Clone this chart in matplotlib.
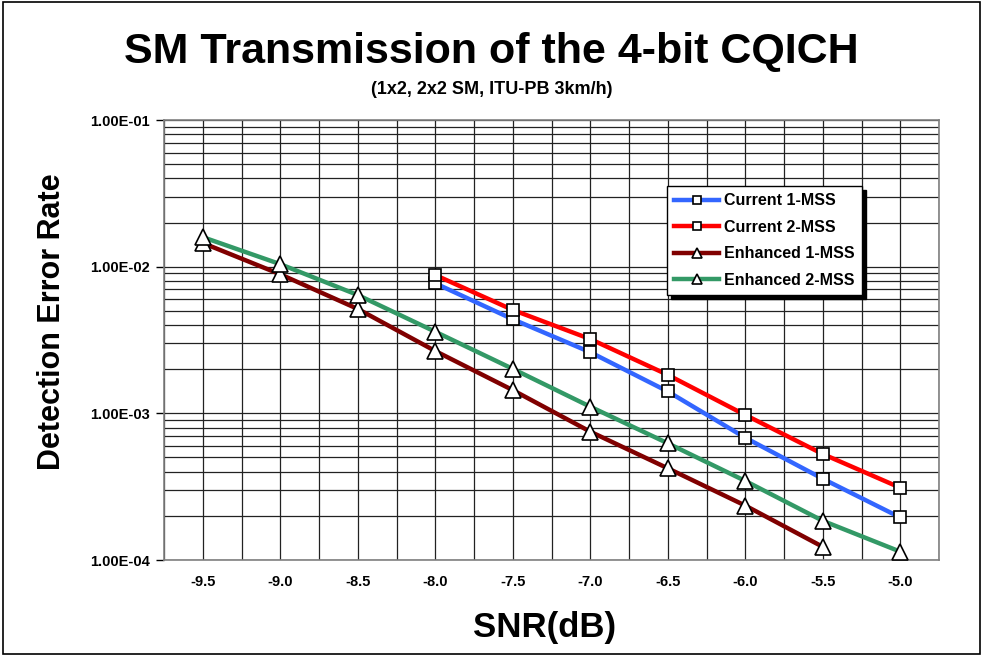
import numpy as np
import matplotlib
matplotlib.use("Agg")
import matplotlib.pyplot as plt
from matplotlib.patches import Rectangle
from matplotlib.ticker import FixedLocator, FuncFormatter, LogLocator, NullFormatter

plt.rcParams["font.family"] = ["Liberation Sans", "DejaVu Sans"]
plt.rcParams["font.weight"] = "bold"

# Data
snr = ["-9.5", "-9.0", "-8.5", "-8.0", "-7.5", "-7.0", "-6.5", "-6.0", "-5.5", "-5.0"]

current_1 = [None, None, None, 0.00770, 0.00438, 0.00261, 0.00141, 0.000682, 0.000358, 0.000195]
current_2 = [None, None, None, 0.00877, 0.00507, 0.00321, 0.00183, 0.000975, 0.000528, 0.000311]
enhanced_1 = [0.0145, 0.00887, 0.00515, 0.00266, 0.00144, 0.000750, 0.000422, 0.000235, 0.000123, None]
enhanced_2 = [0.0159, 0.0104, 0.00641, 0.00360, 0.00201, 0.00111, 0.000625, 0.000346, 0.000185, 0.000114]

series = [
    ("Current 1-MSS", current_1, "#3366FF", "s"),
    ("Current 2-MSS", current_2, "#FF0000", "s"),
    ("Enhanced 1-MSS", enhanced_1, "#800000", "^"),
    ("Enhanced 2-MSS", enhanced_2, "#339966", "^"),
]

fig = plt.figure(figsize=(9.83, 6.56), dpi=100)
ax = fig.add_axes([164 / 983, 1 - 560 / 656, (939 - 164) / 983, (560 - 120) / 656])

x = np.arange(len(snr))
for name, vals, color, mk in series:
    y = np.array([np.nan if v is None else v for v in vals], dtype=float)
    ms = 8 if mk == "s" else 11
    ax.plot(x, y, color=color, lw=3.2, marker=mk, markersize=ms,
            markerfacecolor="white", markeredgecolor="black", markeredgewidth=1.2,
            label=name, zorder=3)

ax.set_yscale("log")
ax.set_ylim(1e-4, 1e-1)
ax.set_xlim(-0.5, len(snr) - 0.5)

ax.yaxis.set_major_locator(LogLocator(base=10, numticks=10))
ax.yaxis.set_minor_locator(LogLocator(base=10, subs=np.arange(2, 10), numticks=20))
ax.yaxis.set_major_formatter(FuncFormatter(lambda v, p: f"{v:.2E}"))
ax.yaxis.set_minor_formatter(NullFormatter())

ax.set_xticks(x)
ax.set_xticklabels(snr)
ax.xaxis.set_minor_locator(FixedLocator(np.arange(-0.5, len(snr), 1.0)))

ax.grid(True, which="both", color="#222222", lw=0.9, zorder=0)
ax.tick_params(axis="y", which="major", length=6, width=1, labelsize=10.5, pad=4)
ax.tick_params(axis="y", which="minor", length=0)
ax.tick_params(axis="x", which="both", length=0, labelsize=10.5, pad=11)
for lab in ax.get_xticklabels() + ax.get_yticklabels():
    lab.set_fontweight("bold")

for sp in ax.spines.values():
    sp.set_color("#808080")
    sp.set_linewidth(1.2)

fig.text(545 / 983, 1 - 628 / 656, "SNR(dB)", ha="center", va="center",
         fontsize=25, fontweight="bold")
fig.text(52 / 983, 1 - 322 / 656, "Detection Error Rate", ha="center", va="center",
         rotation=90, fontsize=22, fontweight="bold")

fig.text(0.5, 1 - 52 / 656, "SM Transmission of the 4-bit CQICH",
         ha="center", va="center", fontsize=31, fontweight="bold")
fig.text(0.5, 1 - 90 / 656, "(1x2, 2x2 SM, ITU-PB 3km/h)",
         ha="center", va="center", fontsize=13, fontweight="bold")

leg = ax.legend(loc="upper left", bbox_to_anchor=(667 / 983, 1 - 186 / 656),
                bbox_transform=fig.transFigure, borderaxespad=0,
                fancybox=False, edgecolor="black", framealpha=1,
                shadow={"color": "black", "alpha": 1, "ox": 3, "oy": -3},
                fontsize=11.5, handlelength=2.8, labelspacing=0.72,
                borderpad=0.45, handletextpad=0.3, markerscale=0.65)
leg.get_frame().set_linewidth(1.0)
for t in leg.get_texts():
    t.set_fontweight("bold")

fig.patches.append(Rectangle((0.003, 0.003), 0.994, 0.994, transform=fig.transFigure,
                             fill=False, edgecolor="black", lw=1.2))

fig.savefig("out.png", dpi=100)
